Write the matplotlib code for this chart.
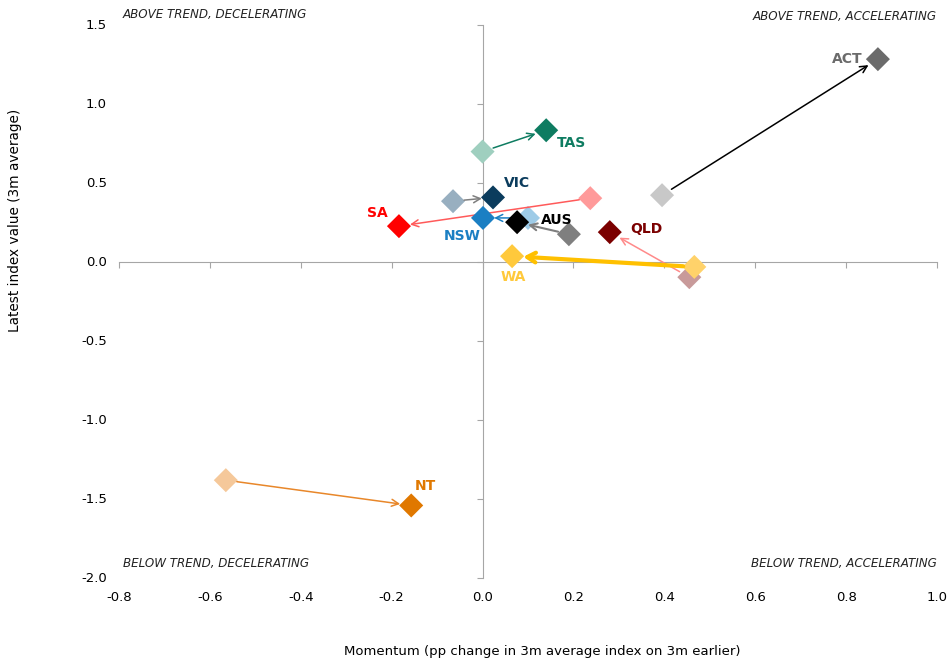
import matplotlib
matplotlib.use("Agg")
import matplotlib.pyplot as plt

regions = ["ACT", "TAS", "VIC", "SA", "NSW", "AUS", "QLD", "WA", "NT"]
prev_x = [0.395, 0.000, -0.065, 0.237, 0.100, 0.190, 0.455, 0.466, -0.565]
prev_y = [0.424, 0.700, 0.386, 0.405, 0.280, 0.177, -0.095, -0.030, -1.380]
curr_x = [0.870, 0.140, 0.023, -0.184, 0.001, 0.076, 0.280, 0.065, -0.157]
curr_y = [1.285, 0.835, 0.410, 0.228, 0.280, 0.253, 0.190, 0.038, -1.540]

curr_colors = ["#6b6b6b", "#0e7c61", "#0b3c5d", "#ff0000", "#1b7fc3", "#000000", "#7b0000", "#ffc93c", "#e07800"]
prev_colors = ["#c8c8c8", "#9fcfbf", "#98afc0", "#ff9a9a", "#9ecbe7", "#7f7f7f", "#c89a9a", "#ffd26a", "#f5c89a"]
arrow_colors = ["#000000", "#0e7c61", "#7f7f7f", "#ff5a5a", "#1b7fc3", "#7f7f7f", "#ff8a8a", "#ffc000", "#e8872a"]
arrow_widths = [1.1, 1.1, 1.1, 1.1, 1.1, 1.5, 1.1, 3.0, 1.1]
label_offsets = [(-11, 0), (8, -9), (8, 10.5), (-8, 9.5), (-2, -13), (17.5, 1.5), (15, 2), (1, -15), (10, 14)]
label_ha = ["right", "left", "left", "right", "right", "left", "left", "center", "center"]

xticks = [-0.8, -0.6, -0.4, -0.2, 0.0, 0.2, 0.4, 0.6, 0.8, 1.0]
yticks = [-2.0, -1.5, -1.0, -0.5, 0.0, 0.5, 1.0, 1.5]

plt.rcParams['font.family'] = ['DejaVu Sans']
fig = plt.figure(figsize=(9.47, 6.63), dpi=100)
ax = fig.add_axes([0.1257, 0.128, 0.8637, 0.834])
ax.set_xlim(-0.8, 1.0)
ax.set_ylim(-2.0, 1.5)

for s in ["top", "right"]:
    ax.spines[s].set_visible(False)
ax.spines["left"].set_position(("data", 0))
ax.spines["bottom"].set_position(("data", 0))
ax.spines["left"].set_color("#a6a6a6")
ax.spines["bottom"].set_color("#a6a6a6")
ax.set_xticks(xticks)
ax.set_yticks(yticks)
ax.tick_params(axis="both", direction="out", length=4, color="#a6a6a6", labelleft=False, labelbottom=False)

for xv in xticks:
    ax.text(xv, -0.035, f"{xv:.1f}", transform=ax.get_xaxis_transform(), ha="center", va="center", fontsize=9.5, color="#000000")
for yv in yticks:
    ax.text(-0.015, yv, f"{yv:.1f}", transform=ax.get_yaxis_transform(), ha="right", va="center", fontsize=9.5, color="#000000")

fig.text(0.573, 0.017, "Momentum (pp change in 3m average index on 3m earlier)", ha="center", va="center", fontsize=9.5)
fig.text(0.016, 0.668, "Latest index value (3m average)", ha="center", va="center", rotation=90, fontsize=9.8)

qfont = dict(fontsize=8.6, style="italic", color="#222222")
ax.text(0.004, 1.02, "ABOVE TREND, DECELERATING", transform=ax.transAxes, ha="left", va="center", **qfont)
ax.text(1.0, 1.015, "ABOVE TREND, ACCELERATING", transform=ax.transAxes, ha="right", va="center", **qfont)
ax.text(0.005, 0.027, "BELOW TREND, DECELERATING", transform=ax.transAxes, ha="left", va="center", **qfont)
ax.text(1.0, 0.027, "BELOW TREND, ACCELERATING", transform=ax.transAxes, ha="right", va="center", **qfont)

ax.scatter(prev_x, prev_y, marker="D", s=150, c=prev_colors, zorder=3, linewidths=0)
for i in range(len(regions)):
    head = "->,head_length=0.6,head_width=0.35" if arrow_widths[i] > 2 else "->,head_length=0.5,head_width=0.25"
    ax.annotate("", xy=(curr_x[i], curr_y[i]), xytext=(prev_x[i], prev_y[i]),
                arrowprops=dict(arrowstyle=head, color=arrow_colors[i], lw=arrow_widths[i],
                                shrinkA=8, shrinkB=8), zorder=4)
ax.scatter(curr_x, curr_y, marker="D", s=150, c=curr_colors, zorder=5, linewidths=0)

for i, r in enumerate(regions):
    ax.annotate(r, xy=(curr_x[i], curr_y[i]), xytext=label_offsets[i], textcoords="offset points",
                ha=label_ha[i], va="center", fontsize=10, fontweight="bold", color=curr_colors[i], zorder=6)

fig.savefig("out.png", dpi=100)
